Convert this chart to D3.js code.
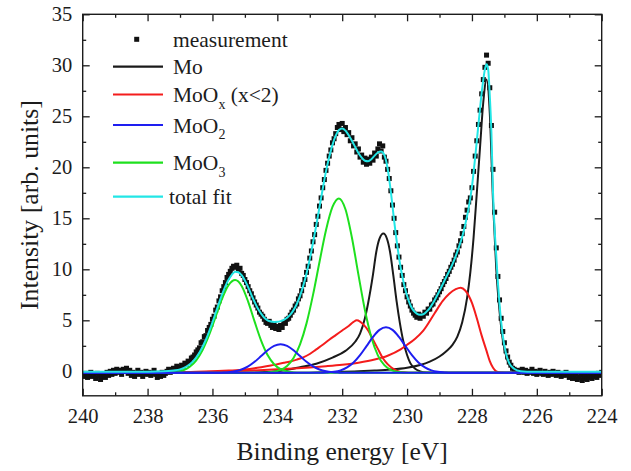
<!DOCTYPE html>
<html>
<head>
<meta charset="utf-8">
<script src="https://cdn.jsdelivr.net/npm/d3@7"></script>
<style>
  html, body { margin: 0; padding: 0; background: #fff; }
</style>
</head>
<body>
<svg id="chart" width="631" height="471"></svg>
<script>
// ---- Mo 3d XPS spectrum: [binding energy (eV), intensity (arb. units)] ----
const measurement = [
  [240.00,-0.3],[239.95,-0.5],[239.90,-0.2],[239.85,-0.6],[239.80,-0.3],[239.75,-0.1],[239.70,-0.5],[239.65,-0.3],
  [239.60,-0.7],[239.55,-0.2],[239.50,-0.4],[239.45,-0.8],[239.40,-0.5],[239.35,-0.3],[239.30,-0.6],[239.25,-0.1],
  [239.20,-0.4],[239.15,0.0],[239.10,-0.3],[239.05,0.1],[239.00,-0.2],[238.95,0.2],[238.90,-0.1],[238.85,0.1],
  [238.80,-0.3],[238.75,0.2],[238.70,0.0],[238.65,0.3],[238.60,-0.2],[238.55,0.1],[238.50,-0.4],[238.45,-0.1],
  [238.40,-0.5],[238.35,-0.2],[238.30,0.1],[238.25,-0.3],[238.20,-0.1],[238.15,-0.5],[238.10,-0.2],[238.05,0.0],
  [238.00,-0.3],[237.95,-0.1],[237.90,-0.4],[237.85,-0.2],[237.80,0.1],[237.75,-0.3],[237.70,-0.6],[237.65,-0.2],
  [237.60,-0.5],[237.55,-0.1],[237.50,-0.4],[237.45,-0.2],[237.40,0.0],[237.35,0.2],[237.30,-0.1],
  [237.25,0.1],[237.20,0.3],[237.15,0.2],[237.10,0.5],[237.05,0.3],[237.00,0.4],[236.95,0.6],[236.90,0.5],
  [236.85,0.8],[236.80,0.7],[236.75,1.0],[236.70,0.9],[236.65,1.3],[236.60,1.4],[236.55,1.6],[236.50,1.9],
  [236.45,2.1],[236.40,2.3],[236.35,2.8],[236.30,2.9],[236.25,3.4],[236.20,3.5],[236.15,4.0],[236.10,4.3],
  [236.05,4.6],[236.00,5.1],[235.95,5.4],[235.90,6.0],[235.85,6.3],[235.80,6.9],[235.75,7.3],[235.70,7.9],
  [235.65,8.3],[235.60,8.7],[235.55,9.2],[235.50,9.5],[235.45,9.8],[235.40,10.1],[235.35,10.3],[235.30,10.2],
  [235.25,10.4],[235.20,10.0],[235.15,10.1],[235.10,9.6],[235.05,9.4],[235.00,9.0],[234.95,8.7],[234.90,8.3],
  [234.85,7.9],[234.80,7.6],[234.75,7.2],[234.70,6.8],[234.65,6.5],[234.60,6.2],[234.55,5.8],[234.50,5.6],
  [234.45,5.4],[234.40,5.1],[234.35,4.8],[234.30,4.7],[234.25,4.9],[234.20,4.5],[234.15,4.3],[234.10,4.6],
  [234.05,4.2],[234.00,4.4],[233.95,4.1],[233.90,4.5],[233.85,4.3],[233.80,4.8],[233.75,4.7],[233.70,5.1],
  [233.65,5.2],[233.60,5.5],[233.55,5.8],[233.50,6.0],[233.45,6.4],[233.40,6.6],[233.35,7.1],[233.30,7.4],
  [233.25,7.9],[233.20,8.5],[233.15,9.0],[233.10,9.7],[233.05,10.3],[233.00,11.1],[232.95,11.8],[232.90,12.7],
  [232.85,13.4],[232.80,14.4],[232.75,15.2],[232.70,16.2],[232.65,17.0],[232.60,18.0],[232.55,18.8],[232.50,19.7],
  [232.45,20.4],[232.40,21.1],[232.35,21.7],[232.30,22.4],[232.25,22.8],[232.20,23.3],[232.15,23.9],[232.10,24.2],
  [232.05,23.7],[232.00,24.3],[231.95,23.5],[231.90,23.9],[231.85,23.2],[231.80,23.4],[231.75,22.6],[231.70,22.9],
  [231.65,22.1],[231.60,22.3],[231.55,21.5],[231.50,21.8],[231.45,21.0],[231.40,21.2],[231.35,20.5],[231.30,20.9],
  [231.25,20.3],[231.20,20.8],[231.15,20.4],[231.10,21.0],[231.05,20.7],[231.00,21.4],[230.95,21.1],[230.90,21.8],
  [230.85,22.3],[230.80,21.6],[230.75,22.1],[230.70,21.0],[230.65,20.6],[230.60,19.8],[230.55,18.9],[230.50,17.7],
  [230.45,16.3],[230.40,15.0],[230.35,13.6],[230.30,12.3],[230.25,11.2],[230.20,10.2],[230.15,9.4],[230.10,8.5],
  [230.05,7.9],[230.00,7.3],[229.95,6.8],[229.90,6.4],[229.85,6.0],[229.80,5.7],[229.75,5.5],[229.70,5.3],
  [229.65,5.6],[229.60,5.2],[229.55,5.5],[229.50,5.4],[229.45,5.8],[229.40,5.7],[229.35,6.1],[229.30,6.1],
  [229.25,6.5],[229.20,6.6],[229.15,7.0],[229.10,7.2],[229.05,7.5],[229.00,7.8],[228.95,8.1],[228.90,8.5],
  [228.85,8.8],[228.80,9.1],[228.75,9.5],[228.70,9.8],[228.65,10.2],[228.60,10.5],[228.55,10.9],[228.50,11.4],
  [228.45,11.7],[228.40,12.3],[228.35,12.8],[228.30,13.5],[228.25,14.2],[228.20,15.1],[228.15,15.8],[228.10,16.6],
  [228.05,17.0],[228.00,18.0],[227.95,19.6],[227.90,21.1],[227.85,22.6],[227.80,24.2],[227.75,25.6],[227.70,27.2],
  [227.65,28.6],[227.60,29.8],[227.55,31.0],[227.50,30.2],[227.45,27.8],[227.40,24.1],[227.35,19.8],[227.30,15.6],
  [227.25,12.1],[227.20,9.3],[227.15,7.0],[227.10,5.2],[227.05,3.9],[227.00,2.8],[226.95,2.0],[226.90,1.4],
  [226.85,0.9],[226.80,0.6],[226.75,0.3],[226.70,0.2],[226.65,0.0],[226.60,0.1],[226.55,-0.1],[226.50,0.0],
  [226.45,0.2],[226.40,-0.1],[226.35,0.1],[226.30,-0.2],[226.25,0.0],[226.20,-0.1],[226.15,0.2],[226.10,-0.2],
  [226.05,0.0],[226.00,-0.3],[225.95,-0.1],[225.90,0.1],[225.85,-0.2],[225.80,-0.3],[225.75,0.0],[225.70,-0.2],
  [225.65,-0.4],[225.60,-0.1],[225.55,-0.3],[225.50,0.0],[225.45,-0.2],[225.40,-0.4],[225.35,-0.1],[225.30,-0.3],
  [225.25,-0.5],[225.20,-0.2],[225.15,-0.4],[225.10,-0.1],[225.05,-0.3],[225.00,-0.6],[224.95,-0.4],[224.90,-0.7],
  [224.85,-0.5],[224.80,-0.3],[224.75,-0.8],[224.70,-0.6],[224.65,-0.4],[224.60,-0.9],[224.55,-0.7],[224.50,-0.5],
  [224.45,-0.8],[224.40,-0.6],[224.35,-0.4],[224.30,-0.7],[224.25,-0.5],[224.20,-0.3],[224.15,-0.6],[224.10,-0.2],
  [224.05,-0.4],[224.00,-0.1]
];

// Fitted components (two spin-orbit peaks each)
const mo_3d32 = [
  [240,-0.15],[235,-0.15],[234.2,-0.05],[233.6,0.2],[233.3,0.4],[232.8,0.75],[232.3,1.35],[231.9,2.0],
  [231.6,2.9],[231.45,3.7],[231.3,5.2],[231.2,6.7],[231.05,9.5],[230.95,11.7],[230.85,13.0],[230.73,13.5],
  [230.62,13.0],[230.53,11.8],[230.42,9.3],[230.32,6.8],[230.22,4.7],[230.12,3.0],[230.0,1.6],[229.9,0.8],
  [229.75,0.25],[229.6,0.0],[229.4,-0.12],[229.0,-0.15],[224,-0.15]
];
const mo_3d52 = [
  [240,-0.15],[233.5,-0.15],[232.5,-0.08],[231.5,0.0],[231.0,0.07],[230.5,0.17],[230.0,0.35],[229.6,0.62],
  [229.3,0.95],[229.0,1.45],[228.8,1.95],[228.6,2.6],[228.45,3.4],[228.3,4.8],[228.15,7.2],[228.05,9.7],
  [227.95,13.1],[227.85,17.5],[227.75,22.0],[227.65,26.4],[227.55,28.6],[227.45,25.3],[227.35,16.6],
  [227.25,10.0],[227.15,5.9],[227.05,3.1],[226.95,1.55],[226.85,0.65],[226.7,0.12],[226.5,-0.08],
  [226.2,-0.15],[224,-0.15]
];
const moOx_3d32 = [
  [240,-0.15],[237.5,-0.12],[237,-0.1],[236.5,-0.05],[236,0.0],[235.5,0.07],[235,0.17],[234.5,0.4],
  [234.2,0.57],[234.0,0.7],[233.8,0.83],[233.6,0.97],[233.4,1.15],[233.2,1.37],[233.0,1.7],[232.8,2.15],
  [232.6,2.6],[232.4,3.1],[232.2,3.55],[232.0,4.0],[231.8,4.45],[231.65,4.85],[231.55,5.0],[231.45,4.88],
  [231.35,4.6],[231.2,4.0],[231.05,3.1],[230.9,2.2],[230.75,1.3],[230.6,0.7],[230.45,0.3],[230.3,0.05],
  [230.1,-0.1],[229.8,-0.15],[224,-0.15]
];
const moOx_3d52 = [
  [240,-0.15],[237,-0.12],[236,-0.05],[235,0.05],[234,0.2],[233.5,0.27],[233.0,0.37],[232.5,0.5],
  [232.0,0.65],[231.5,0.85],[231.0,1.15],[230.6,1.53],[230.2,2.15],[230.0,2.6],[229.75,3.2],[229.5,4.0],
  [229.15,5.7],[228.9,6.9],[228.7,7.6],[228.5,8.05],[228.35,8.2],[228.2,7.9],[228.0,6.7],[227.85,5.2],
  [227.7,3.5],[227.55,2.0],[227.45,1.0],[227.35,0.35],[227.25,0.0],[227.1,-0.12],[226.8,-0.15],[224,-0.15]
];
const moO2_3d32 = [
  [240,-0.15],[235.9,-0.15],[235.7,-0.13],[235.5,-0.09],[235.3,0.0],[235.1,0.18],[234.9,0.48],[234.7,0.93],
  [234.5,1.49],[234.3,2.06],[234.1,2.49],[233.9,2.65],[233.7,2.49],[233.5,2.06],[233.3,1.49],[233.1,0.93],
  [232.9,0.48],[232.7,0.18],[232.5,0.0],[232.3,-0.09],[232.1,-0.13],[231.9,-0.15],[224,-0.15]
];
const moO2_3d52 = [
  [240,-0.15],[232.65,-0.15],[232.45,-0.11],[232.25,-0.05],[232.05,0.09],[231.85,0.38],[231.65,0.86],
  [231.45,1.58],[231.25,2.47],[231.05,3.37],[230.85,4.06],[230.65,4.32],[230.45,4.06],[230.25,3.37],
  [230.05,2.47],[229.85,1.58],[229.65,0.86],[229.45,0.38],[229.25,0.09],[229.05,-0.05],[228.85,-0.11],
  [228.65,-0.15],[224,-0.15]
];
const moO3_3d32 = [
  [240,-0.15],[237.5,-0.15],[237.3,-0.11],[237.1,-0.05],[236.9,0.11],[236.7,0.45],[236.5,1.08],[236.3,2.12],
  [236.1,3.59],[235.9,5.37],[235.7,7.14],[235.5,8.46],[235.3,8.95],[235.1,8.37],[234.9,6.84],[234.7,4.87],
  [234.5,3.01],[234.3,1.59],[234.1,0.69],[233.9,0.21],[233.7,-0.02],[233.5,-0.11],[233.3,-0.15],[224,-0.15]
];
const moO3_3d52 = [
  [240,-0.15],[234.5,-0.14],[234.3,-0.11],[234.1,-0.04],[233.9,0.14],[233.7,0.53],[233.5,1.30],[233.3,2.64],
  [233.1,4.70],[232.9,7.49],[232.7,10.72],[232.5,13.83],[232.3,16.11],[232.1,16.95],[231.9,15.89],
  [231.7,13.10],[231.5,9.48],[231.3,6.01],[231.1,3.32],[230.9,1.57],[230.7,0.60],[230.5,0.14],[230.3,-0.05],
  [230.1,-0.12],[229.9,-0.15],[224,-0.15]
];
const totalFit = [
  [240,-0.04],[238,-0.04],[237.5,0.0],[237.2,0.09],[237.0,0.19],[236.8,0.47],[236.6,0.98],[236.4,1.84],
  [236.2,3.12],[236.0,4.81],[235.9,5.74],[235.8,6.67],[235.7,7.58],[235.6,8.36],[235.5,8.99],[235.4,9.48],
  [235.3,9.75],[235.2,9.72],[235.1,9.42],[235.0,8.9],[234.9,8.25],[234.8,7.5],[234.7,6.8],[234.6,6.15],
  [234.5,5.65],[234.4,5.25],[234.3,5.0],[234.2,4.88],[234.1,4.84],[234.0,4.85],[233.9,4.92],[233.8,5.05],
  [233.7,5.25],[233.6,5.55],[233.5,6.0],[233.4,6.6],[233.3,7.4],[233.2,8.4],[233.1,9.6],[233.0,11.0],
  [232.9,12.6],[232.8,14.3],[232.7,16.1],[232.6,17.9],[232.5,19.6],[232.4,21.0],[232.3,22.2],[232.2,23.1],
  [232.1,23.65],[232.0,23.8],[231.9,23.6],[231.8,23.15],[231.7,22.6],[231.6,22.0],[231.5,21.4],[231.4,20.95],
  [231.3,20.65],[231.2,20.6],[231.1,20.8],[231.0,21.15],[230.9,21.45],[230.8,21.55],[230.7,21.2],[230.6,19.9],
  [230.5,17.6],[230.4,14.8],[230.3,12.3],[230.2,10.2],[230.1,8.6],[230.0,7.4],[229.9,6.5],[229.8,5.95],
  [229.7,5.65],[229.6,5.55],[229.5,5.6],[229.4,5.85],[229.3,6.2],[229.2,6.7],[229.0,7.9],[228.8,9.2],
  [228.6,10.5],[228.4,12.2],[228.3,13.2],[228.2,14.5],[228.1,16.05],[228.0,18.1],[227.9,21.0],[227.8,24.2],
  [227.7,27.3],[227.6,29.6],[227.55,30.1],[227.5,29.6],[227.45,27.0],[227.4,23.4],[227.35,17.5],[227.3,13.9],
  [227.25,11.3],[227.2,8.7],[227.15,6.6],[227.05,3.5],[226.95,1.75],[226.85,0.8],[226.7,0.25],[226.5,0.0],
  [226.3,-0.04],[224,-0.04]
];

// Axis ticks
const xMajorTicks = [240, 238, 236, 234, 232, 230, 228, 226, 224];
const xMinorTicks = [239, 237, 235, 233, 231, 229, 227, 225];
const yMajorTicks = [0, 5, 10, 15, 20, 25, 30, 35];
const yMinorTicks = [2.5, 7.5, 12.5, 17.5, 22.5, 27.5, 32.5];

// Legend entries
const legendNames = ["measurement", "Mo", "MoOx", "MoO2", "MoO3", "total fit"];

// ---- layout ----
const serif = "Liberation Serif";
const svg = d3.select("#chart");
const plot = { left: 82.7, right: 601.7, top: 14.3, bottom: 395.8 };
const ink = "#1c1c1c";
const colors = { Mo: "#1a1a1a", MoOx: "#f41c1c", MoO2: "#1e1ef0", MoO3: "#1ee01e", total: "#22e6e6" };

const x = d3.scaleLinear().domain([240, 224]).range([plot.left, plot.right]);
const y = d3.scaleLinear().domain([-2.4, 35]).range([plot.bottom, plot.top]);

svg.append("defs").append("clipPath").attr("id", "plotClip")
  .append("rect")
  .attr("x", plot.left).attr("y", plot.top)
  .attr("width", plot.right - plot.left).attr("height", plot.bottom - plot.top);

// axes with inward ticks
function styleAxis(g) {
  g.select(".domain").remove();
  g.selectAll(".tick line").attr("stroke", ink).attr("stroke-width", 1.3);
  g.selectAll(".tick text").attr("fill", ink)
    .style("font-family", serif).style("font-size", "20.5px");
}
const fmt = d3.format("d");
svg.append("g").attr("transform", `translate(0,${plot.bottom})`)
  .call(d3.axisBottom(x).tickValues(xMajorTicks).tickSize(-7).tickPadding(12.5).tickFormat(fmt)).call(styleAxis);
svg.append("g").attr("transform", `translate(0,${plot.bottom})`)
  .call(d3.axisBottom(x).tickValues(xMinorTicks).tickSize(-3.5).tickFormat("")).call(styleAxis);
svg.append("g").attr("transform", `translate(0,${plot.top})`)
  .call(d3.axisTop(x).tickValues(xMajorTicks).tickSize(-7).tickFormat("")).call(styleAxis);
svg.append("g").attr("transform", `translate(0,${plot.top})`)
  .call(d3.axisTop(x).tickValues(xMinorTicks).tickSize(-3.5).tickFormat("")).call(styleAxis);
svg.append("g").attr("transform", `translate(${plot.left},0)`)
  .call(d3.axisLeft(y).tickValues(yMajorTicks).tickSize(-7).tickPadding(10.5).tickFormat(fmt)).call(styleAxis);
svg.append("g").attr("transform", `translate(${plot.left},0)`)
  .call(d3.axisLeft(y).tickValues(yMinorTicks).tickSize(-3.5).tickFormat("")).call(styleAxis);
svg.append("g").attr("transform", `translate(${plot.right},0)`)
  .call(d3.axisRight(y).tickValues(yMajorTicks).tickSize(-7).tickFormat("")).call(styleAxis);
svg.append("g").attr("transform", `translate(${plot.right},0)`)
  .call(d3.axisRight(y).tickValues(yMinorTicks).tickSize(-3.5).tickFormat("")).call(styleAxis);

// data layer
const layer = svg.append("g").attr("clip-path", "url(#plotClip)");
const sq = 5;
layer.append("g").selectAll("rect").data(measurement).join("rect")
  .attr("x", d => x(d[0]) - sq / 2).attr("y", d => y(d[1]) - sq / 2)
  .attr("width", sq).attr("height", sq).attr("fill", "#111");

const line = d3.line().x(d => x(d[0])).y(d => y(d[1])).curve(d3.curveMonotoneX);
const curves = [
  [mo_3d32, colors.Mo], [mo_3d52, colors.Mo],
  [moOx_3d32, colors.MoOx], [moOx_3d52, colors.MoOx],
  [moO3_3d32, colors.MoO3], [moO3_3d52, colors.MoO3],
  [moO2_3d32, colors.MoO2], [moO2_3d52, colors.MoO2],
  [totalFit, colors.total]
];
layer.append("g").selectAll("path").data(curves).join("path")
  .attr("d", d => line(d[0])).attr("fill", "none")
  .attr("stroke", d => d[1]).attr("stroke-width", 2).attr("stroke-linejoin", "round");

// frame
svg.append("rect").attr("x", plot.left).attr("y", plot.top)
  .attr("width", plot.right - plot.left).attr("height", plot.bottom - plot.top)
  .attr("fill", "none").attr("stroke", ink).attr("stroke-width", 1.4);

// axis titles
svg.append("text").attr("x", (plot.left + plot.right) / 2).attr("y", 460)
  .attr("text-anchor", "middle").attr("fill", ink)
  .style("font-family", serif).style("font-size", "25.6px")
  .text("Binding energy [eV]");
svg.append("text").attr("transform", `translate(38,${(plot.top + plot.bottom) / 2}) rotate(-90)`)
  .attr("text-anchor", "middle").attr("fill", ink)
  .style("font-family", serif).style("font-size", "25.8px")
  .text("Intensity [arb. units]");

// legend
const legendRowY = [39.3, 66.7, 94.5, 125, 162.7, 196.7];
const legendStroke = [null, colors.Mo, colors.MoOx, colors.MoO2, colors.MoO3, colors.total];
const lg = svg.append("g");
legendNames.forEach((name, i) => {
  const yy = legendRowY[i];
  if (i === 0) {
    lg.append("rect").attr("x", 136.7 - sq / 2).attr("y", yy - sq / 2)
      .attr("width", sq).attr("height", sq).attr("fill", "#111");
  } else {
    lg.append("line").attr("x1", 113).attr("x2", 163).attr("y1", yy).attr("y2", yy)
      .attr("stroke", legendStroke[i]).attr("stroke-width", 2.2);
  }
  const t = lg.append("text").attr("x", i === 5 ? 169 : 173).attr("y", yy + 7.5)
    .attr("fill", ink).style("font-family", serif).style("font-size", "21.5px");
  if (name === "MoOx") {
    t.append("tspan").text("MoO");
    t.append("tspan").attr("dy", 6.5).style("font-size", "14px").text("x");
    t.append("tspan").attr("dy", -6.5).text(" (x<2)");
  } else if (name === "MoO2" || name === "MoO3") {
    t.append("tspan").text("MoO");
    t.append("tspan").attr("dy", 6.5).style("font-size", "14px").text(name.slice(3));
  } else {
    t.text(name);
  }
});
</script>
</body>
</html>
